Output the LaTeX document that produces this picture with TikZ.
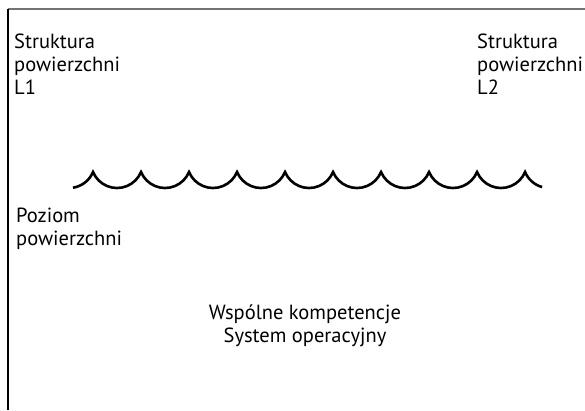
\documentclass[tikz,border=0pt]{standalone}
\usepackage{fontspec}
\setmainfont{PT Sans}
\begin{document}
\begin{tikzpicture}[x=1pt,y=1pt,
  label/.style={inner sep=0pt, align=left, font=\fontsize{20.5}{23}\selectfont},
  wave/.style={line width=2.6pt, line join=miter, line cap=butt},
  frameline/.style={line width=1.2pt}]
  \useasboundingbox (0,0) rectangle (585,410);
  % open frame: top and left edges
  \coordinate (tl) at (8,401);
  \coordinate (tr) at (585,401);
  \coordinate (bl) at (8,0);
  \draw[frameline, black!55] (tl) -- (tr);
  \draw[frameline, black] (tl) -- (bl);

  % labels (base anchor sits on the last line)
  \node[label, anchor=base west] (s1) at (14,315) {Struktura\\powierzchni\\L1};
  \node[label, anchor=base west] (s2) at (477,315) {Struktura\\powierzchni\\L2};
  \node[label, anchor=base west] (pz) at (16,165) {Poziom\\powierzchni};
  \node[label, align=center, anchor=base] (wk) at (305,68) {Wspólne kompetencje\\System operacyjny};

  % scalloped surface line
  \coordinate (w0) at (73,222.3);
  \draw[wave] (w0) arc[start angle=278.8, end angle=337.4, radius=26]
    \foreach \i in {1,...,9} { arc[start angle=202.6, end angle=337.4, radius=26] }
    arc[start angle=202.6, end angle=254.4, radius=26];
\end{tikzpicture}
\end{document}
